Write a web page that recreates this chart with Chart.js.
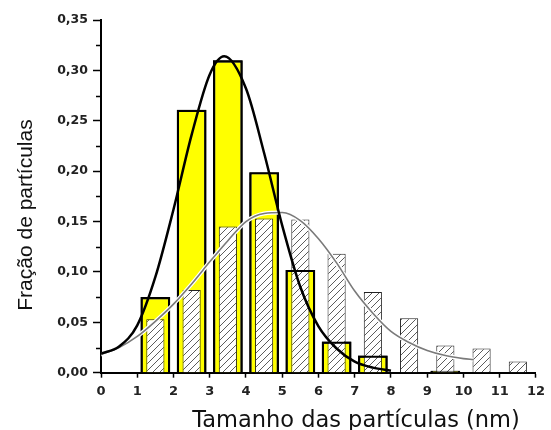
<!DOCTYPE html>
<html>
<head>
<meta charset="utf-8">
<script src="https://cdn.jsdelivr.net/npm/chart.js@4.4.1/dist/chart.umd.min.js"></script>
<style>
  html, body { margin: 0; padding: 0; background: #ffffff; }
  #wrap { width: 551px; height: 430px; position: relative; }
</style>
</head>
<body>
<div id="wrap"><canvas id="chart"></canvas></div>
<script>
// Histogram bins (nm) and the fraction of particles in each bin
const binCenters = [1.5, 2.5, 3.5, 4.5, 5.5, 6.5, 7.5, 8.5, 9.5, 10.5, 11.5];
const fractionSolid = [0.075, 0.261, 0.310, 0.199, 0.102, 0.031, 0.017, null, 0.002, null, null];
const fractionHatched = [0.053, 0.082, 0.145, 0.153, 0.152, 0.118, 0.080, 0.054, 0.027, 0.024, 0.011];

// Fitted distribution curves
const fitNarrowX = [0, 0.5, 1.0, 1.5, 2.0, 2.5, 3.0, 3.4, 4.0, 4.5, 5.0, 5.5, 6.0, 6.5, 7.0, 7.5, 8.0];
const fitNarrowY = [0.019, 0.026, 0.047, 0.095, 0.162, 0.236, 0.296, 0.314, 0.282, 0.218, 0.146, 0.085, 0.046, 0.024, 0.011, 0.005, 0.002];
const fitWideX = [0, 0.5, 1.0, 1.5, 2.0, 2.5, 3.0, 3.5, 4.0, 4.5, 5.0, 5.5, 6.0, 6.5, 7.0, 7.5, 8.0, 8.5, 9.0, 9.5, 10.0, 10.27];
const fitWideY = [0.018, 0.025, 0.036, 0.051, 0.068, 0.088, 0.110, 0.131, 0.150, 0.158, 0.159, 0.151, 0.133, 0.109, 0.081, 0.059, 0.041, 0.030, 0.022, 0.017, 0.014, 0.013];

// Axis labelling
const xTickLabels = ['0', '1', '2', '3', '4', '5', '6', '7', '8', '9', '10', '11', '12'];
const yTickLabels = ['0,00', '0,05', '0,10', '0,15', '0,20', '0,25', '0,30', '0,35'];
const yMinorTicks = [0.025, 0.075, 0.125, 0.175, 0.225, 0.275, 0.325];
const xTitle = 'Tamanho das partículas (nm)';
const yTitle = 'Fração de partículas';

function toPoints(xs, ys) {
  return xs.map((x, i) => ({ x: x, y: ys[i] }));
}

// Diagonal hatch fill for the second histogram
function makeHatch() {
  const s = 7;
  const c = document.createElement('canvas');
  c.width = s; c.height = s;
  const g = c.getContext('2d');
  g.fillStyle = '#ffffff';
  g.fillRect(0, 0, s, s);
  g.strokeStyle = '#4a4a4a';
  g.lineWidth = 0.9;
  g.beginPath();
  g.moveTo(0, s); g.lineTo(s, 0);
  g.moveTo(-1, 1); g.lineTo(1, -1);
  g.moveTo(s - 1, s + 1); g.lineTo(s + 1, s - 1);
  g.stroke();
  return g.createPattern(c, 'repeat');
}

// Minor y ticks and the two axis titles
const decorations = {
  id: 'decorations',
  afterDraw(chart) {
    const ctx = chart.ctx;
    const area = chart.chartArea;
    const ys = chart.scales.y;
    ctx.save();
    ctx.strokeStyle = '#000';
    ctx.lineWidth = 1.5;
    ctx.beginPath();
    yMinorTicks.forEach(v => {
      const py = Math.round(ys.getPixelForValue(v)) + 0.5;
      ctx.moveTo(area.left - 5, py);
      ctx.lineTo(area.left, py);
    });
    ctx.stroke();

    ctx.fillStyle = '#111';
    ctx.textAlign = 'center';
    ctx.textBaseline = 'alphabetic';
    ctx.font = '22.5px "DejaVu Sans"';
    ctx.fillText(xTitle, area.left + 255, area.bottom + 54);

    ctx.translate(area.left - 69.5, area.top + 195);
    ctx.rotate(-Math.PI / 2);
    ctx.font = '21px "Liberation Sans"';
    ctx.fillText(yTitle, 0, 0);
    ctx.restore();
  }
};

const hatch = makeHatch();

new Chart(document.getElementById('chart'), {
  type: 'bar',
  data: {
    datasets: [
      {
        type: 'line',
        data: toPoints(fitNarrowX, fitNarrowY),
        borderColor: '#000000',
        borderWidth: 2.5,
        pointRadius: 0,
        fill: false,
        cubicInterpolationMode: 'monotone',
        order: 0
      },
      {
        type: 'line',
        data: toPoints(fitWideX, fitWideY),
        borderColor: '#7a7a7a',
        borderWidth: 1.6,
        pointRadius: 0,
        fill: false,
        cubicInterpolationMode: 'monotone',
        order: 1
      },
      {
        type: 'line',
        data: toPoints(fitWideX, fitWideY),
        borderColor: '#ffffff',
        borderWidth: 4,
        pointRadius: 0,
        fill: false,
        cubicInterpolationMode: 'monotone',
        order: 2
      },
      {
        // outline of the solid bars, kept above the hatched bars
        data: toPoints(binCenters, fractionSolid),
        backgroundColor: 'rgba(0,0,0,0)',
        borderColor: '#000000',
        borderWidth: 2.2,
        barPercentage: 0.82,
        categoryPercentage: 1,
        grouped: false,
        order: 3
      },
      {
        data: toPoints(binCenters, fractionHatched),
        backgroundColor: hatch,
        borderColor: '#222222',
        borderWidth: 1,
        barPercentage: 0.5,
        categoryPercentage: 1,
        grouped: false,
        order: 4
      },
      {
        data: toPoints(binCenters, fractionSolid),
        backgroundColor: '#ffff00',
        borderColor: '#000000',
        borderWidth: 2.2,
        barPercentage: 0.82,
        categoryPercentage: 1,
        grouped: false,
        order: 5
      }
    ]
  },
  options: {
    responsive: true,
    maintainAspectRatio: false,
    animation: false,
    events: [],
    layout: { padding: { top: 20, right: 9.3, bottom: 0, left: 0 } },
    plugins: { legend: { display: false }, tooltip: { enabled: false } },
    scales: {
      x: {
        type: 'linear',
        min: 0,
        max: 12,
        offset: false,
        afterFit(s) { s.height = 57.3; },
        border: { display: true, color: '#000', width: 2 },
        grid: { display: true, offset: false, drawOnChartArea: false, drawTicks: true, tickLength: 5, tickColor: '#000', tickWidth: 1.5 },
        ticks: {
          stepSize: 1,
          autoSkip: false,
          maxRotation: 0,
          padding: 6,
          color: '#222',
          font: { family: 'DejaVu Sans', size: 13, weight: 'bold' },
          callback: (v, i) => xTickLabels[i]
        }
      },
      y: {
        min: 0,
        max: 0.35,
        afterFit(s) { s.width = 101; },
        border: { display: true, color: '#000', width: 2 },
        grid: { display: true, drawOnChartArea: false, drawTicks: true, tickLength: 8, tickColor: '#000', tickWidth: 1.5 },
        ticks: {
          stepSize: 0.05,
          padding: 5,
          color: '#222',
          font: { family: 'DejaVu Sans', size: 12.5, weight: 'bold' },
          callback: (v, i) => yTickLabels[i]
        }
      }
    }
  },
  plugins: [decorations]
});
</script>
</body>
</html>
